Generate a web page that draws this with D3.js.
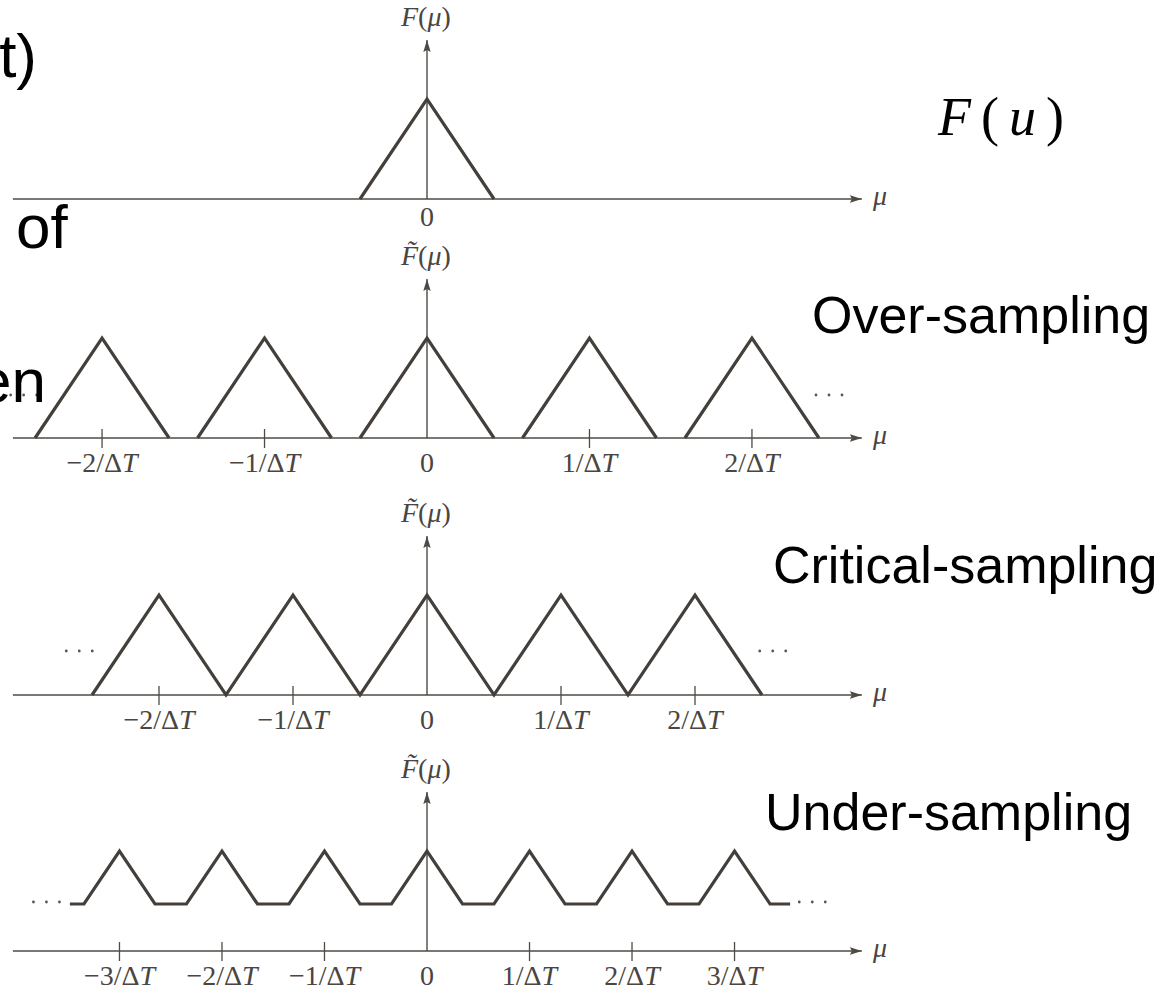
<!DOCTYPE html>
<html>
<head>
<meta charset="utf-8">
<script src="https://cdn.jsdelivr.net/npm/d3@7"></script>
<style>
  body { margin: 0; background: #fff; }
  #chart { width: 1167px; height: 991px; overflow: hidden; }
  .slide-text { font-family: "Liberation Sans", Arial, sans-serif; fill: #000; }
  .math { font-family: "Liberation Serif", "Times New Roman", serif; fill: #4a4540; font-size: 28px; }
</style>
</head>
<body>
<div id="chart"></div>
<script>
// mu is measured in band-limit units (each triangle has half-width 1, height 1)
const bandLimit = 1;
const triangleHeight = 1;
const axisExtent = [-6.18, 6.49];

const overRate = 2.425;
const criticalRate = 2.0;
const underRate = 1.53;

// which periodic copies k/ΔT are summed in each row
const originalCopies = [0];
const overCopies = [-2, -1, 0, 1, 2];
const criticalCopies = [-2, -1, 0, 1, 2];
const underCopies = [-5, -4, -3, -2, -1, 0, 1, 2, 3, 4, 5];

// visible stretch of the summed curve (mu units)
const criticalRange = [-5, 5];
const underRange = [-5.33, 5.42];

const overTicks = [-2, -1, 0, 1, 2];
const criticalTicks = [-2, -1, 0, 1, 2];
const underTicks = [-3, -2, -1, 0, 1, 2, 3];

const overTickLabels = ["−2/ΔT", "−1/ΔT", "0", "1/ΔT", "2/ΔT"];
const criticalTickLabels = ["−2/ΔT", "−1/ΔT", "0", "1/ΔT", "2/ΔT"];
const underTickLabels = ["−3/ΔT", "−2/ΔT", "−1/ΔT", "0", "1/ΔT", "2/ΔT", "3/ΔT"];

// "..." continuation marks: [mu, level]
const overDots = [[-6.02, 0.43], [6.0, 0.43]];
const criticalDots = [[-5.19, 0.44], [5.16, 0.44]];
const underDots = [[-5.68, 0.49], [5.75, 0.49]];

const rowTitles = ["Over-sampling", "Critical-sampling", "Under-sampling"];

class SamplingFigure {
  constructor(parentElement) {
    this.parentElement = parentElement;
  }

  initVis() {
    let vis = this;

    vis.width = 1167;
    vis.height = 991;

    vis.svg = d3
      .select("#" + vis.parentElement)
      .append("svg")
      .attr("width", vis.width)
      .attr("height", vis.height);

    // mu = 0 sits on the vertical axis, one band-limit unit = 67px
    vis.x = d3.scaleLinear().domain([0, bandLimit]).range([427, 494]);

    vis.svg
      .append("defs")
      .append("marker")
      .attr("id", "arrow")
      .attr("viewBox", "0 0 12 8")
      .attr("refX", 12)
      .attr("refY", 4)
      .attr("markerUnits", "userSpaceOnUse")
      .attr("markerWidth", 12)
      .attr("markerHeight", 8)
      .attr("orient", "auto")
      .append("path")
      .attr("d", "M0,0.3 L12,4 L0,7.7 L2,4 Z")
      .attr("fill", "#4f4a45");

    vis.rows = [
      { axisY: 199, tilde: false, shape: "single", copies: originalCopies, rate: 0 },
      { axisY: 438, tilde: true, shape: "separate", copies: overCopies, rate: overRate,
        ticks: overTicks, tickLabels: overTickLabels, dots: overDots },
      { axisY: 695, tilde: true, shape: "sum", copies: criticalCopies, rate: criticalRate,
        range: criticalRange, ticks: criticalTicks, tickLabels: criticalTickLabels, dots: criticalDots },
      { axisY: 951, tilde: true, shape: "sum", copies: underCopies, rate: underRate,
        range: underRange, ticks: underTicks, tickLabels: underTickLabels, dots: underDots },
    ];

    vis.rows.forEach(function (row) {
      vis.drawRow(row);
    });

    vis.drawSlideText();
  }

  triangle(c) {
    return [[c - bandLimit, 0], [c, triangleHeight], [c + bandLimit, 0]];
  }

  // sum of shifted triangles, evaluated at every breakpoint inside range
  aliasedSum(copies, rate, range) {
    var breaks = [range[0], range[1]];
    copies.forEach(function (k) {
      var c = k * rate;
      [c - bandLimit, c, c + bandLimit].forEach(function (b) {
        if (b > range[0] && b < range[1]) breaks.push(b);
      });
    });
    breaks.sort(function (a, b) {
      return a - b;
    });
    return breaks.map(function (m) {
      var v = d3.sum(copies, function (k) {
        return Math.max(0, triangleHeight * (1 - Math.abs(m - k * rate) / bandLimit));
      });
      return [m, v];
    });
  }

  mathLabel(sel, str) {
    var parts = str.split("T");
    sel.append("tspan").text(parts[0]);
    if (parts.length > 1) {
      sel.append("tspan").attr("font-style", "italic").text("T");
    }
  }

  drawRow(row) {
    let vis = this;

    var y = d3.scaleLinear().domain([0, triangleHeight]).range([row.axisY, row.axisY - 100]);
    var g = vis.svg.append("g").attr("class", "row");

    // horizontal axis
    g.append("line")
      .attr("x1", vis.x(axisExtent[0]))
      .attr("x2", vis.x(axisExtent[1]))
      .attr("y1", row.axisY)
      .attr("y2", row.axisY)
      .attr("stroke", "#4f4a45")
      .attr("stroke-width", 1.4)
      .attr("marker-end", "url(#arrow)");

    // vertical axis
    g.append("line")
      .attr("x1", vis.x(0))
      .attr("x2", vis.x(0))
      .attr("y1", row.axisY)
      .attr("y2", row.axisY - 159)
      .attr("stroke", "#4f4a45")
      .attr("stroke-width", 1.4)
      .attr("marker-end", "url(#arrow)");

    var curves = [];
    if (row.shape === "sum") {
      curves = [vis.aliasedSum(row.copies, row.rate, row.range)];
    } else {
      curves = row.copies.map(function (k) {
        return vis.triangle(k * row.rate);
      });
    }

    var line = d3
      .line()
      .x(function (d) {
        return vis.x(d[0]);
      })
      .y(function (d) {
        return y(d[1]);
      });

    g.selectAll(".spectrum")
      .data(curves)
      .enter()
      .append("path")
      .attr("class", "spectrum")
      .attr("d", line)
      .attr("fill", "none")
      .attr("stroke", "#443f3a")
      .attr("stroke-width", 3.2)
      .attr("stroke-linejoin", "miter");

    // ticks and labels
    if (row.ticks) {
      g.selectAll(".tick")
        .data(row.ticks.filter(function (k) {
          return k !== 0;
        }))
        .enter()
        .append("line")
        .attr("class", "tick")
        .attr("x1", function (k) {
          return vis.x(k * row.rate);
        })
        .attr("x2", function (k) {
          return vis.x(k * row.rate);
        })
        .attr("y1", row.axisY - 9)
        .attr("y2", row.axisY + 10)
        .attr("stroke", "#4f4a45")
        .attr("stroke-width", 1.3);

      row.ticks.forEach(function (k, i) {
        var t = g.append("text")
          .attr("class", "math")
          .attr("x", vis.x(k * row.rate))
          .attr("y", row.axisY + 34)
          .attr("text-anchor", "middle");
        vis.mathLabel(t, row.tickLabels[i]);
      });
    } else {
      g.append("text")
        .attr("class", "math")
        .attr("x", vis.x(0))
        .attr("y", row.axisY + 27)
        .attr("text-anchor", "middle")
        .text("0");
    }

    // continuation dots
    if (row.dots) {
      row.dots.forEach(function (d) {
        [-13, 0, 13].forEach(function (dx) {
          g.append("circle")
            .attr("cx", vis.x(d[0]) + dx)
            .attr("cy", y(d[1]))
            .attr("r", 1.4)
            .attr("fill", "#5a5550");
        });
      });
    }

    // mu label at arrow tip
    g.append("text")
      .attr("class", "math")
      .attr("x", 873)
      .attr("y", row.axisY + 6)
      .attr("font-style", "italic")
      .text("μ");

    // F(mu) label above vertical axis, with a combining tilde on sampled rows
    var lbl = g.append("text")
      .attr("class", "math")
      .attr("x", vis.x(0) - 26)
      .attr("y", row.axisY - 173);
    lbl.append("tspan").attr("font-style", "italic").text(row.tilde ? "F\u0303" : "F");
    lbl.append("tspan").text("(");
    lbl.append("tspan").attr("font-style", "italic").text("μ");
    lbl.append("tspan").text(")");
  }

  drawSlideText() {
    let vis = this;

    // fragments of the slide text cut off at the left edge
    vis.svg.append("text")
      .attr("class", "slide-text")
      .attr("x", 37)
      .attr("y", 77)
      .attr("text-anchor", "end")
      .attr("font-size", "62px")
      .text("t)");

    vis.svg.append("text")
      .attr("class", "slide-text")
      .attr("x", 16)
      .attr("y", 248)
      .attr("font-size", "62px")
      .text("of");

    vis.svg.append("text")
      .attr("class", "slide-text")
      .attr("x", 46)
      .attr("y", 402)
      .attr("text-anchor", "end")
      .attr("font-size", "62px")
      .text("en");

    var fu = vis.svg.append("text")
      .attr("x", 938)
      .attr("y", 135)
      .attr("font-family", "'Liberation Serif', 'DejaVu Serif', serif")
      .attr("font-size", "54px")
      .attr("letter-spacing", "10px")
      .attr("fill", "#000");
    fu.append("tspan").attr("font-style", "italic").text("F");
    fu.append("tspan").text("(");
    fu.append("tspan").attr("font-style", "italic").text("u");
    fu.append("tspan").text(")");

    var titlePos = [[812, 333], [773, 583], [765, 830]];
    rowTitles.forEach(function (t, i) {
      vis.svg.append("text")
        .attr("class", "slide-text")
        .attr("x", titlePos[i][0])
        .attr("y", titlePos[i][1])
        .attr("font-size", "52px")
        .text(t);
    });
  }
}

var figure = new SamplingFigure("chart");
figure.initVis();
</script>
</body>
</html>
